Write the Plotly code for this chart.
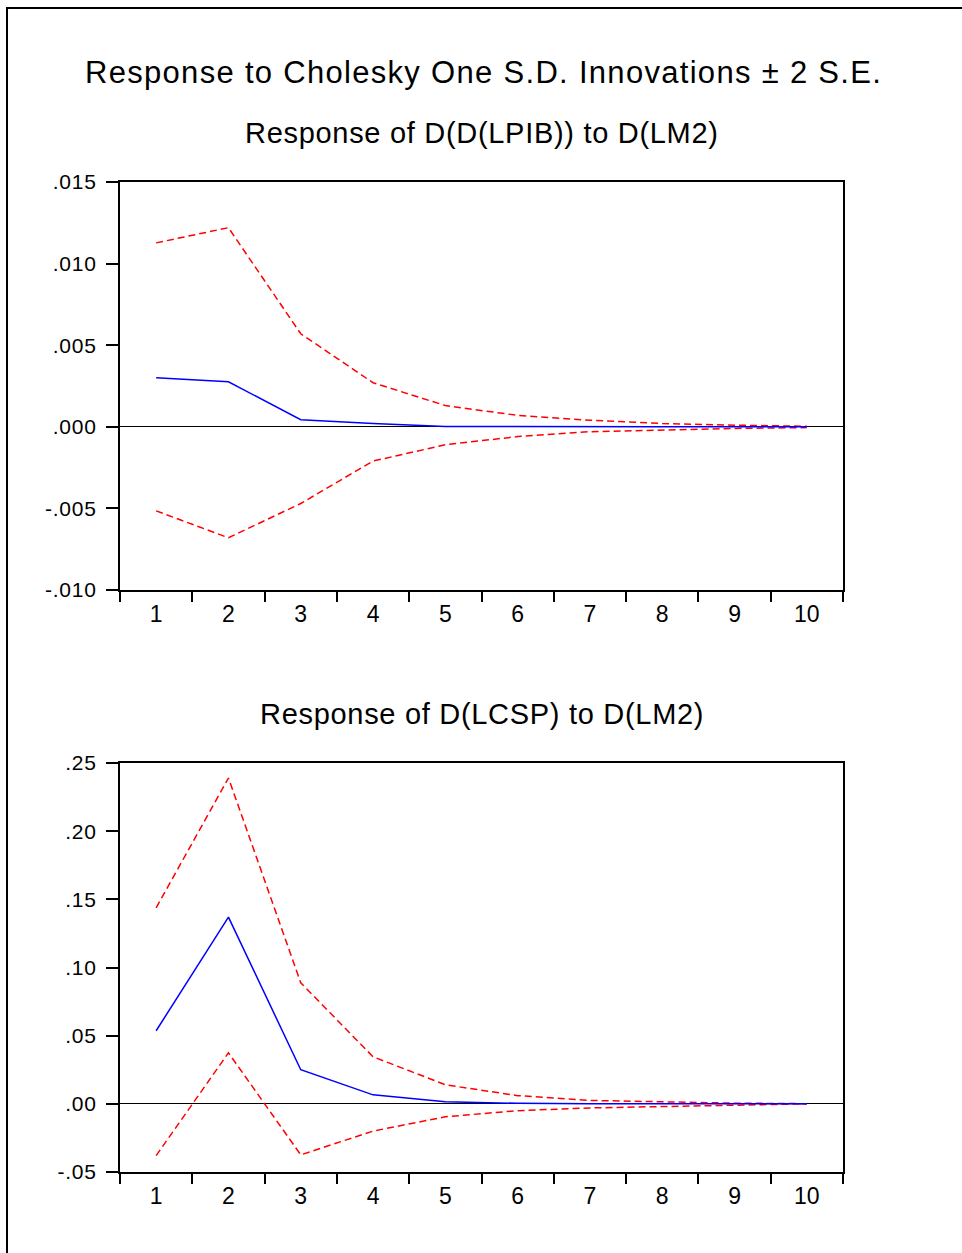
import plotly.graph_objects as go

periods = ["1", "2", "3", "4", "5", "6", "7", "8", "9", "10"]

# Panel 1: Response of D(D(LPIB)) to D(LM2)
p1_resp = [0.0030, 0.00276, 0.00043, 0.00020, 0.00002, 0.0, 0.0, 0.0, 0.0, 0.0]
p1_upper = [0.01127, 0.0122, 0.0057, 0.0027, 0.0013, 0.0007, 0.0004, 0.0002, 0.0001, 0.00003]
p1_lower = [-0.00515, -0.0068, -0.0047, -0.0021, -0.0011, -0.0006, -0.0003, -0.0002, -0.0001, -0.00005]

# Panel 2: Response of D(LCSP) to D(LM2)
p2_resp = [0.0536, 0.137, 0.025, 0.0066, 0.0015, 0.0004, 0.0001, 0.0, 0.0, 0.0]
p2_upper = [0.1438, 0.239, 0.0888, 0.0345, 0.014, 0.006, 0.0025, 0.0015, 0.0005, 0.0001]
p2_lower = [-0.038, 0.0374, -0.0374, -0.020, -0.0095, -0.005, -0.003, -0.002, -0.001, 0.0]

p1_ticks = [-0.010, -0.005, 0.0, 0.005, 0.010, 0.015]
p1_ticktext = ["-.010", "-.005", ".000", ".005", ".010", ".015"]
p2_ticks = [-0.05, 0.0, 0.05, 0.10, 0.15, 0.20, 0.25]
p2_ticktext = ["-.05", ".00", ".05", ".10", ".15", ".20", ".25"]

main_title = "Response to Cholesky One S.D. Innovations \u00b1 2 S.E."
title1 = "Response of D(D(LPIB)) to D(LM2)"
title2 = "Response of D(LCSP) to D(LM2)"

W, H = 962, 1253
FONT = "Liberation Sans, Arial, sans-serif"


def spaced(s, px):
    return '<span style="letter-spacing:%spx">%s</span>' % (px, s)


fig = go.Figure()


def add_panel(resp, up, lo, xa, ya):
    for band in (up, lo):
        fig.add_trace(go.Scatter(x=periods, y=band, mode="lines", xaxis=xa, yaxis=ya,
                                 line=dict(color="#ff0000", width=1.5, dash="7px,4px"),
                                 showlegend=False))
    fig.add_trace(go.Scatter(x=periods, y=resp, mode="lines", xaxis=xa, yaxis=ya,
                             line=dict(color="#0000ff", width=1.5), showlegend=False))


add_panel(p1_resp, p1_upper, p1_lower, "x", "y")
add_panel(p2_resp, p2_upper, p2_lower, "x2", "y2")

xdom = [120 / W, 843 / W]
y1dom = [1 - 590 / H, 1 - 182 / H]
y2dom = [1 - 1172 / H, 1 - 763 / H]

xcommon = dict(type="category", categoryorder="array", categoryarray=periods,
               range=[-0.5, 9.5], tickson="boundaries", ticks="outside", ticklen=10,
               tickwidth=1.5, tickcolor="black", showline=True, linecolor="black",
               linewidth=2, mirror=True, showgrid=False, zeroline=False, automargin=False,
               tickfont=dict(family=FONT, size=23, color="black"), domain=xdom,
               fixedrange=True, ticklabelstandoff=2)
ycommon = dict(ticks="outside", ticklen=12, tickwidth=1.5, tickcolor="black",
               showline=True, linecolor="black", linewidth=2, mirror=True, automargin=False,
               showgrid=False, zeroline=True, zerolinecolor="black", zerolinewidth=1,
               tickfont=dict(family=FONT, size=21, color="black"), ticklabelstandoff=5,
               fixedrange=True)

fig.update_layout(
    template="none",
    width=W, height=H,
    margin=dict(l=0, r=0, t=0, b=0, pad=0),
    paper_bgcolor="white", plot_bgcolor="white",
    xaxis=dict(**xcommon, anchor="y"),
    yaxis=dict(**ycommon, domain=y1dom, range=[-0.010, 0.015], tickvals=p1_ticks,
               ticktext=[spaced(t, 0.8) for t in p1_ticktext], anchor="x"),
    xaxis2=dict(**xcommon, anchor="y2"),
    yaxis2=dict(**ycommon, domain=y2dom, range=[-0.05, 0.25], tickvals=p2_ticks,
                ticktext=[spaced(t, 0.8) for t in p2_ticktext], anchor="x2"),
    showlegend=False,
)

fig.add_annotation(text=spaced(main_title, 1.3), x=483.5 / W, y=1 - 73 / H, xref="paper",
                   yref="paper", showarrow=False,
                   font=dict(family=FONT, size=31, color="black"),
                   xanchor="center", yanchor="middle")
fig.add_annotation(text=spaced(title1, 0.7), x=482 / W, y=1 - 133 / H, xref="paper",
                   yref="paper", showarrow=False,
                   font=dict(family=FONT, size=29, color="black"),
                   xanchor="center", yanchor="middle")
fig.add_annotation(text=spaced(title2, 0.7), x=482 / W, y=1 - 714 / H, xref="paper",
                   yref="paper", showarrow=False,
                   font=dict(family=FONT, size=29, color="black"),
                   xanchor="center", yanchor="middle")

# outer frame (left and top edges visible)
fig.add_shape(type="rect", xref="paper", yref="paper", x0=7 / W, x1=1.02,
              y0=-0.02, y1=1 - 8 / H, line=dict(color="black", width=2), layer="above")

fig.write_html("out.html", config={"displayModeBar": False},
               post_script="document.body.style.margin='0';document.body.style.overflow='hidden';")
